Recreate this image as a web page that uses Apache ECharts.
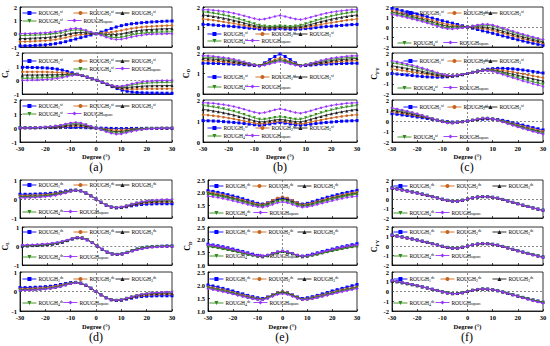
<!DOCTYPE html>
<html><head><meta charset="utf-8">
<script src="https://cdn.jsdelivr.net/npm/echarts@6/dist/echarts.min.js"></script>
<style>html,body{margin:0;padding:0;background:#fff}#c{width:550px;height:346px}</style>
</head><body><div id="c"></div>
<script>
const degrees = [-30,-28,-26,-24,-22,-20,-18,-16,-14,-12,-10,-8,-6,-4,-2,0,2,4,6,8,10,12,14,16,18,20,22,24,26,28,30];
const xTicks = [-30,-20,-10,0,10,20,30];
const yTicksA = [-1,0,1,2];
const yTicksB = [0,1,2];
const yTicksC = [-2,-1,0,1,2];
const yTicksD = [-1,0,1];
const yTicksE = [1.0,1.5,2.0,2.5];
const yTicksF = [-2,-1,0,1,2];

// ---- panel (a) C_L ----
const a1Blue = [-0.92,-0.91,-0.9,-0.88,-0.86,-0.84,-0.8,-0.75,-0.68,-0.6,-0.5,-0.4,-0.3,-0.2,-0.1,0,0.12,0.25,0.38,0.5,0.6,0.68,0.74,0.78,0.82,0.85,0.88,0.9,0.92,0.94,0.95];
const a1Orange = [-0.6,-0.59,-0.58,-0.56,-0.54,-0.52,-0.49,-0.44,-0.37,-0.29,-0.2,-0.12,-0.07,-0.04,-0.02,0,0.04,0.07,0.11,0.17,0.24,0.32,0.39,0.45,0.49,0.53,0.55,0.57,0.59,0.61,0.62];
const a1Black = [-0.37,-0.36,-0.35,-0.33,-0.31,-0.29,-0.26,-0.22,-0.15,-0.07,0.02,0.08,0.1,0.07,0.03,0,-0.02,-0.06,-0.08,-0.06,-0.01,0.07,0.15,0.21,0.26,0.3,0.32,0.34,0.36,0.37,0.38];
const a1Green = [-0.14,-0.13,-0.12,-0.11,-0.09,-0.07,-0.04,0.01,0.07,0.15,0.23,0.28,0.26,0.18,0.09,0,-0.08,-0.18,-0.27,-0.3,-0.27,-0.19,-0.1,-0.03,0.03,0.07,0.09,0.11,0.12,0.13,0.14];
const aSquare = [0,0.01,0.02,0.03,0.05,0.07,0.1,0.14,0.2,0.28,0.36,0.4,0.36,0.25,0.12,0,-0.12,-0.26,-0.38,-0.44,-0.42,-0.34,-0.25,-0.17,-0.11,-0.07,-0.05,-0.03,-0.02,-0.01,0];
const a2Blue = [0.95,0.95,0.94,0.93,0.92,0.9,0.87,0.82,0.75,0.65,0.55,0.45,0.35,0.23,0.12,0,-0.14,-0.3,-0.46,-0.6,-0.72,-0.8,-0.86,-0.89,-0.91,-0.92,-0.93,-0.93,-0.94,-0.94,-0.95];
const a2Orange = [0.62,0.62,0.62,0.62,0.62,0.61,0.6,0.58,0.56,0.52,0.48,0.43,0.35,0.24,0.12,0,-0.13,-0.29,-0.43,-0.54,-0.62,-0.64,-0.65,-0.64,-0.63,-0.62,-0.62,-0.62,-0.62,-0.61,-0.62];
const a2Black = [0.38,0.39,0.39,0.39,0.4,0.4,0.41,0.41,0.42,0.43,0.44,0.42,0.36,0.24,0.12,0,-0.13,-0.28,-0.41,-0.5,-0.54,-0.52,-0.49,-0.46,-0.43,-0.41,-0.4,-0.39,-0.39,-0.38,-0.38];
const a2Green = [0.14,0.15,0.16,0.17,0.18,0.19,0.22,0.24,0.28,0.34,0.39,0.41,0.36,0.25,0.12,0,-0.12,-0.27,-0.39,-0.46,-0.47,-0.41,-0.34,-0.28,-0.23,-0.2,-0.18,-0.17,-0.16,-0.15,-0.14];
const a3Blue = [0.02,0.02,0.02,0.02,0.02,0.02,0.03,0.03,0.03,0.04,0.04,0.04,0.03,0.02,0.01,0,-0.01,-0.02,-0.03,-0.04,-0.04,-0.04,-0.03,-0.03,-0.03,-0.02,-0.02,-0.02,-0.02,-0.02,-0.02];
const a3Orange = [0.01,0.01,0.02,0.02,0.03,0.04,0.05,0.06,0.08,0.11,0.14,0.15,0.14,0.1,0.05,0,-0.05,-0.1,-0.14,-0.16,-0.16,-0.13,-0.1,-0.07,-0.05,-0.03,-0.02,-0.02,-0.01,-0.01,-0.01];
const a3Black = [0,0.01,0.01,0.02,0.03,0.04,0.06,0.08,0.12,0.17,0.22,0.24,0.22,0.15,0.07,0,-0.07,-0.16,-0.23,-0.26,-0.25,-0.2,-0.15,-0.1,-0.07,-0.04,-0.03,-0.02,-0.01,-0.01,0];
const a3Green = [0,0.01,0.02,0.03,0.04,0.06,0.08,0.12,0.17,0.24,0.31,0.34,0.31,0.21,0.1,0,-0.1,-0.22,-0.32,-0.37,-0.36,-0.29,-0.21,-0.14,-0.09,-0.06,-0.04,-0.03,-0.02,-0.01,0];

// ---- panel (b) C_D ----
const b1Blue = [1.13,1.12,1.1,1.08,1.06,1.04,1.02,1.0,0.97,0.94,0.92,0.9,0.89,0.89,0.9,0.92,0.9,0.89,0.89,0.9,0.92,0.94,0.97,1.0,1.02,1.04,1.06,1.08,1.1,1.12,1.13];
const b1Orange = [1.4,1.37,1.34,1.3,1.26,1.22,1.18,1.13,1.08,1.03,0.99,0.96,0.95,0.95,0.96,0.98,0.96,0.95,0.95,0.96,0.99,1.03,1.08,1.13,1.18,1.22,1.26,1.3,1.34,1.37,1.4];
const b1Black = [1.6,1.57,1.53,1.49,1.44,1.39,1.33,1.27,1.2,1.13,1.07,1.02,1.0,0.99,1.0,1.02,1.0,0.99,1.0,1.02,1.07,1.13,1.2,1.27,1.33,1.39,1.44,1.49,1.53,1.57,1.6];
const b1Green = [1.76,1.73,1.69,1.65,1.6,1.54,1.47,1.4,1.32,1.24,1.16,1.09,1.05,1.03,1.04,1.06,1.04,1.03,1.05,1.09,1.16,1.24,1.32,1.4,1.47,1.54,1.6,1.65,1.69,1.73,1.76];
const bSquare = [1.87,1.86,1.84,1.81,1.78,1.74,1.69,1.63,1.56,1.49,1.42,1.37,1.4,1.46,1.53,1.58,1.53,1.46,1.4,1.37,1.42,1.49,1.56,1.63,1.69,1.74,1.78,1.81,1.84,1.86,1.87];
const b2Blue = [1.5,1.5,1.49,1.49,1.48,1.47,1.46,1.45,1.43,1.41,1.39,1.38,1.52,1.68,1.83,1.95,1.83,1.68,1.52,1.38,1.39,1.41,1.43,1.45,1.46,1.47,1.48,1.49,1.49,1.5,1.5];
const b2Orange = [1.63,1.62,1.61,1.59,1.57,1.55,1.52,1.5,1.47,1.44,1.41,1.39,1.48,1.58,1.68,1.76,1.68,1.58,1.48,1.39,1.41,1.44,1.47,1.5,1.52,1.55,1.57,1.59,1.61,1.62,1.63];
const b2Black = [1.73,1.72,1.7,1.68,1.66,1.63,1.59,1.55,1.51,1.46,1.42,1.39,1.45,1.54,1.62,1.68,1.62,1.54,1.45,1.39,1.42,1.46,1.51,1.55,1.59,1.63,1.66,1.68,1.7,1.72,1.73];
const b2Green = [1.8,1.79,1.77,1.75,1.72,1.69,1.65,1.6,1.55,1.49,1.43,1.38,1.43,1.5,1.57,1.62,1.57,1.5,1.43,1.38,1.43,1.49,1.55,1.6,1.65,1.69,1.72,1.75,1.77,1.79,1.8];
const b3Blue = [1.02,1.01,1.0,0.99,0.97,0.95,0.93,0.91,0.88,0.85,0.82,0.8,0.82,0.86,0.9,0.93,0.9,0.86,0.82,0.8,0.82,0.85,0.88,0.91,0.93,0.95,0.97,0.99,1.0,1.01,1.02];
const b3Orange = [1.3,1.28,1.25,1.22,1.18,1.14,1.1,1.05,1.0,0.95,0.9,0.87,0.89,0.93,0.97,1.0,0.97,0.93,0.89,0.87,0.9,0.95,1.0,1.05,1.1,1.14,1.18,1.22,1.25,1.28,1.3];
const b3Black = [1.55,1.52,1.48,1.44,1.39,1.34,1.28,1.22,1.15,1.08,1.01,0.96,0.97,1.01,1.05,1.08,1.05,1.01,0.97,0.96,1.01,1.08,1.15,1.22,1.28,1.34,1.39,1.44,1.48,1.52,1.55];
const b3Green = [1.74,1.71,1.67,1.63,1.58,1.52,1.46,1.39,1.31,1.23,1.15,1.08,1.08,1.12,1.17,1.2,1.17,1.12,1.08,1.08,1.15,1.23,1.31,1.39,1.46,1.52,1.58,1.63,1.67,1.71,1.74];

// ---- panel (c) C_FY ----
const c1Blue = [1.85,1.75,1.63,1.52,1.4,1.28,1.15,1.02,0.89,0.76,0.63,0.5,0.38,0.25,0.12,0,-0.12,-0.25,-0.38,-0.5,-0.63,-0.76,-0.89,-1.02,-1.15,-1.28,-1.4,-1.52,-1.63,-1.73,-1.82];
const c1Orange = [1.64,1.54,1.42,1.31,1.19,1.07,0.94,0.8,0.66,0.52,0.38,0.26,0.18,0.11,0.05,0,-0.04,-0.09,-0.15,-0.23,-0.34,-0.47,-0.61,-0.75,-0.89,-1.03,-1.16,-1.29,-1.41,-1.52,-1.62];
const c1Black = [1.49,1.39,1.28,1.17,1.05,0.92,0.78,0.64,0.5,0.35,0.2,0.09,0.03,0.01,0,0,0.01,0.02,0.01,-0.03,-0.13,-0.27,-0.42,-0.56,-0.71,-0.85,-0.99,-1.12,-1.25,-1.37,-1.48];
const c1Green = [1.34,1.24,1.13,1.02,0.9,0.77,0.63,0.48,0.34,0.18,0.03,-0.08,-0.11,-0.09,-0.05,0,0.07,0.13,0.17,0.16,0.08,-0.06,-0.22,-0.37,-0.53,-0.68,-0.82,-0.96,-1.09,-1.22,-1.34];
const cSquare = [1.25,1.15,1.04,0.93,0.81,0.68,0.54,0.39,0.24,0.08,-0.08,-0.18,-0.2,-0.15,-0.08,0,0.1,0.2,0.27,0.28,0.2,0.06,-0.1,-0.26,-0.42,-0.57,-0.72,-0.86,-1.0,-1.13,-1.26];
const c2Blue = [0,-0.05,-0.1,-0.15,-0.2,-0.25,-0.3,-0.33,-0.35,-0.36,-0.35,-0.32,-0.28,-0.22,-0.12,0,0.12,0.24,0.34,0.42,0.47,0.5,0.5,0.48,0.45,0.4,0.34,0.27,0.2,0.12,0.05];
const c2Orange = [0.44,0.37,0.3,0.23,0.15,0.08,-0.01,-0.08,-0.14,-0.21,-0.26,-0.27,-0.25,-0.2,-0.11,0,0.11,0.23,0.32,0.37,0.38,0.35,0.29,0.22,0.15,0.06,-0.03,-0.13,-0.22,-0.32,-0.41];
const c2Black = [0.75,0.67,0.58,0.5,0.41,0.31,0.2,0.1,0,-0.1,-0.19,-0.24,-0.23,-0.18,-0.1,0,0.11,0.22,0.3,0.34,0.31,0.24,0.14,0.04,-0.07,-0.18,-0.3,-0.41,-0.52,-0.63,-0.74];
const c2Green = [1.06,0.97,0.87,0.77,0.66,0.54,0.41,0.28,0.15,0.01,-0.12,-0.2,-0.21,-0.16,-0.09,0,0.1,0.21,0.28,0.3,0.24,0.13,-0.01,-0.15,-0.29,-0.42,-0.56,-0.69,-0.82,-0.94,-1.06];
const c3Blue = [0.7,0.64,0.58,0.52,0.45,0.38,0.31,0.24,0.16,0.08,0,-0.06,-0.1,-0.09,-0.05,0,0.06,0.12,0.17,0.2,0.19,0.14,0.06,-0.04,-0.15,-0.27,-0.39,-0.51,-0.63,-0.74,-0.85];
const c3Orange = [0.89,0.82,0.74,0.66,0.58,0.49,0.39,0.29,0.19,0.08,-0.03,-0.1,-0.14,-0.11,-0.06,0,0.07,0.15,0.21,0.23,0.19,0.11,0,-0.12,-0.24,-0.38,-0.51,-0.63,-0.76,-0.88,-0.99];
const c3Black = [1.03,0.95,0.86,0.77,0.67,0.56,0.45,0.33,0.21,0.08,-0.05,-0.13,-0.16,-0.13,-0.07,0,0.08,0.17,0.23,0.25,0.2,0.09,-0.04,-0.17,-0.31,-0.45,-0.59,-0.72,-0.85,-0.97,-1.1];
const c3Green = [1.17,1.07,0.97,0.87,0.76,0.64,0.51,0.37,0.23,0.08,-0.07,-0.16,-0.19,-0.14,-0.08,0,0.09,0.19,0.26,0.27,0.2,0.07,-0.08,-0.23,-0.38,-0.53,-0.67,-0.81,-0.94,-1.07,-1.2];

// ---- panel (d) C_L ----
const d1Blue = [0.25,0.25,0.25,0.26,0.27,0.28,0.3,0.33,0.37,0.42,0.46,0.47,0.43,0.32,0.17,0,-0.17,-0.32,-0.42,-0.46,-0.45,-0.41,-0.36,-0.32,-0.29,-0.27,-0.26,-0.25,-0.25,-0.25,-0.25];
const d1Orange = [0.18,0.18,0.19,0.2,0.21,0.23,0.25,0.29,0.34,0.39,0.44,0.47,0.43,0.32,0.17,0,-0.17,-0.32,-0.42,-0.46,-0.44,-0.39,-0.33,-0.27,-0.23,-0.2,-0.18,-0.17,-0.17,-0.16,-0.16];
const d1Black = [0.13,0.13,0.14,0.15,0.16,0.18,0.21,0.25,0.3,0.36,0.42,0.46,0.43,0.32,0.17,0,-0.17,-0.32,-0.42,-0.46,-0.43,-0.37,-0.3,-0.24,-0.19,-0.15,-0.13,-0.12,-0.11,-0.11,-0.1];
const d1Green = [0.09,0.09,0.1,0.11,0.13,0.15,0.18,0.22,0.27,0.34,0.41,0.45,0.42,0.32,0.17,0,-0.17,-0.32,-0.42,-0.45,-0.43,-0.36,-0.28,-0.21,-0.16,-0.12,-0.1,-0.08,-0.07,-0.07,-0.06];
const dSquare = [0.05,0.06,0.07,0.08,0.1,0.12,0.15,0.19,0.25,0.32,0.4,0.45,0.42,0.32,0.17,0,-0.17,-0.32,-0.42,-0.45,-0.42,-0.35,-0.27,-0.2,-0.14,-0.1,-0.07,-0.05,-0.04,-0.03,-0.03];
const d2Blue = [0,0.01,0.02,0.03,0.05,0.07,0.1,0.14,0.2,0.28,0.37,0.44,0.42,0.33,0.18,0,-0.17,-0.32,-0.41,-0.44,-0.41,-0.33,-0.24,-0.16,-0.1,-0.06,-0.03,-0.02,-0.01,0,0];
const d2Orange = [0.01,0.02,0.03,0.04,0.06,0.08,0.11,0.15,0.21,0.29,0.38,0.45,0.43,0.33,0.18,0,-0.17,-0.33,-0.42,-0.45,-0.42,-0.34,-0.25,-0.17,-0.11,-0.07,-0.04,-0.03,-0.02,-0.01,-0.01];
const d2Black = [0,0.01,0.02,0.03,0.05,0.07,0.1,0.15,0.21,0.29,0.38,0.44,0.42,0.33,0.18,0,-0.17,-0.32,-0.42,-0.45,-0.42,-0.34,-0.25,-0.16,-0.1,-0.06,-0.04,-0.02,-0.01,-0.01,0];
const d2Green = [0.01,0.01,0.02,0.04,0.05,0.08,0.11,0.15,0.21,0.29,0.38,0.45,0.43,0.33,0.18,0,-0.18,-0.33,-0.42,-0.45,-0.42,-0.34,-0.25,-0.17,-0.11,-0.07,-0.04,-0.03,-0.02,-0.01,-0.01];
const d3Blue = [0.2,0.2,0.21,0.22,0.23,0.25,0.27,0.31,0.36,0.41,0.46,0.47,0.43,0.32,0.17,0,-0.17,-0.32,-0.42,-0.46,-0.44,-0.39,-0.34,-0.29,-0.26,-0.24,-0.23,-0.22,-0.22,-0.22,-0.22];
const d3Orange = [0.14,0.14,0.15,0.16,0.18,0.2,0.23,0.27,0.32,0.38,0.44,0.47,0.43,0.32,0.17,0,-0.17,-0.32,-0.42,-0.46,-0.43,-0.38,-0.31,-0.25,-0.21,-0.18,-0.16,-0.15,-0.14,-0.14,-0.14];
const d3Black = [0.09,0.1,0.1,0.11,0.13,0.15,0.18,0.22,0.28,0.35,0.42,0.46,0.43,0.32,0.17,0,-0.17,-0.32,-0.42,-0.45,-0.43,-0.36,-0.29,-0.22,-0.17,-0.13,-0.11,-0.1,-0.09,-0.09,-0.09];
const d3Green = [0.06,0.06,0.07,0.08,0.1,0.13,0.16,0.2,0.26,0.33,0.41,0.45,0.42,0.32,0.17,0,-0.17,-0.32,-0.42,-0.45,-0.42,-0.35,-0.27,-0.2,-0.15,-0.11,-0.08,-0.06,-0.05,-0.05,-0.04];

// ---- panel (e) C_D ----
const e1Blue = [2.08,2.05,2.01,1.97,1.92,1.87,1.82,1.76,1.7,1.64,1.58,1.55,1.6,1.68,1.75,1.79,1.75,1.68,1.6,1.55,1.58,1.64,1.7,1.76,1.82,1.87,1.92,1.97,2.01,2.05,2.09];
const e1Orange = [2.02,1.99,1.95,1.91,1.86,1.81,1.76,1.71,1.65,1.6,1.55,1.53,1.6,1.7,1.79,1.84,1.79,1.7,1.6,1.53,1.55,1.6,1.65,1.71,1.76,1.81,1.86,1.91,1.95,1.99,2.02];
const e1Black = [1.98,1.95,1.91,1.87,1.83,1.78,1.73,1.67,1.62,1.56,1.51,1.49,1.55,1.63,1.71,1.75,1.71,1.63,1.55,1.49,1.51,1.56,1.62,1.67,1.73,1.78,1.83,1.87,1.91,1.95,1.98];
const e1Green = [1.94,1.91,1.87,1.83,1.79,1.74,1.69,1.63,1.58,1.52,1.48,1.46,1.51,1.58,1.65,1.69,1.65,1.58,1.51,1.46,1.48,1.52,1.58,1.63,1.69,1.74,1.79,1.83,1.87,1.91,1.94];
const e1Square = [1.86,1.84,1.81,1.77,1.73,1.68,1.63,1.58,1.53,1.48,1.44,1.42,1.46,1.53,1.6,1.63,1.6,1.53,1.46,1.42,1.44,1.48,1.53,1.58,1.63,1.68,1.73,1.77,1.81,1.84,1.86];
const e2Blue = [1.82,1.79,1.76,1.72,1.68,1.63,1.58,1.53,1.48,1.43,1.38,1.35,1.38,1.45,1.51,1.54,1.51,1.45,1.38,1.35,1.38,1.43,1.48,1.53,1.58,1.63,1.68,1.72,1.76,1.8,1.84];
const e2Orange = [1.78,1.75,1.72,1.68,1.64,1.59,1.54,1.5,1.45,1.4,1.36,1.34,1.38,1.45,1.51,1.54,1.51,1.45,1.38,1.34,1.36,1.4,1.45,1.5,1.54,1.59,1.64,1.68,1.72,1.75,1.78];
const e2Black = [1.76,1.73,1.7,1.66,1.62,1.57,1.53,1.48,1.43,1.39,1.35,1.33,1.37,1.44,1.5,1.53,1.5,1.44,1.37,1.33,1.35,1.39,1.43,1.48,1.53,1.57,1.62,1.66,1.7,1.73,1.76];
const e2Green = [1.73,1.7,1.67,1.63,1.59,1.55,1.5,1.46,1.41,1.37,1.34,1.32,1.36,1.43,1.49,1.52,1.49,1.43,1.36,1.32,1.34,1.37,1.41,1.46,1.5,1.55,1.59,1.63,1.67,1.7,1.73];
const e2Square = [1.8,1.77,1.74,1.7,1.66,1.61,1.56,1.51,1.46,1.41,1.37,1.35,1.39,1.46,1.52,1.55,1.52,1.46,1.39,1.35,1.37,1.41,1.46,1.51,1.56,1.61,1.66,1.7,1.74,1.77,1.8];
const e3Blue = [2.0,1.96,1.92,1.87,1.82,1.77,1.71,1.66,1.6,1.55,1.51,1.48,1.54,1.62,1.7,1.73,1.7,1.62,1.54,1.48,1.51,1.55,1.6,1.66,1.71,1.77,1.82,1.87,1.92,1.97,2.02];
const e3Orange = [1.94,1.9,1.86,1.82,1.77,1.72,1.67,1.62,1.57,1.52,1.48,1.46,1.53,1.62,1.71,1.75,1.71,1.62,1.53,1.46,1.48,1.52,1.57,1.62,1.67,1.72,1.77,1.82,1.86,1.9,1.94];
const e3Black = [1.91,1.87,1.83,1.79,1.74,1.69,1.64,1.59,1.54,1.5,1.46,1.45,1.51,1.6,1.68,1.72,1.68,1.6,1.51,1.45,1.46,1.5,1.54,1.59,1.64,1.69,1.74,1.79,1.83,1.87,1.91];
const e3Green = [1.88,1.84,1.8,1.76,1.72,1.67,1.62,1.57,1.52,1.48,1.45,1.44,1.5,1.58,1.66,1.7,1.66,1.58,1.5,1.44,1.45,1.48,1.52,1.57,1.62,1.67,1.72,1.76,1.8,1.84,1.88];
const e3Square = [1.86,1.82,1.78,1.74,1.7,1.65,1.6,1.56,1.51,1.47,1.44,1.43,1.48,1.56,1.63,1.66,1.63,1.56,1.48,1.43,1.44,1.47,1.51,1.56,1.6,1.65,1.7,1.74,1.78,1.82,1.86];

// ---- panel (f) C_FY ----
const f1Blue = [1.18,1.08,0.98,0.87,0.76,0.65,0.53,0.4,0.27,0.13,-0.01,-0.13,-0.21,-0.21,-0.13,0,0.12,0.21,0.26,0.25,0.19,0.09,-0.04,-0.19,-0.34,-0.49,-0.64,-0.78,-0.92,-1.05,-1.17];
const f1Orange = [1.16,1.06,0.96,0.86,0.75,0.64,0.52,0.39,0.26,0.12,-0.02,-0.14,-0.22,-0.22,-0.14,0,0.12,0.21,0.25,0.24,0.18,0.08,-0.05,-0.2,-0.35,-0.5,-0.65,-0.79,-0.93,-1.06,-1.18];
const f1Black = [1.15,1.05,0.95,0.85,0.74,0.63,0.51,0.38,0.25,0.11,-0.03,-0.15,-0.22,-0.22,-0.14,0,0.12,0.21,0.25,0.24,0.18,0.08,-0.05,-0.2,-0.35,-0.5,-0.65,-0.8,-0.94,-1.07,-1.19];
const f1Green = [1.14,1.04,0.94,0.84,0.73,0.62,0.5,0.37,0.24,0.1,-0.04,-0.16,-0.23,-0.22,-0.14,0,0.12,0.21,0.25,0.23,0.17,0.07,-0.06,-0.21,-0.36,-0.51,-0.66,-0.8,-0.94,-1.07,-1.2];
const fSquare = [1.13,1.03,0.93,0.83,0.72,0.61,0.49,0.36,0.23,0.09,-0.05,-0.17,-0.24,-0.23,-0.15,0,0.12,0.22,0.26,0.24,0.17,0.07,-0.06,-0.21,-0.36,-0.51,-0.66,-0.81,-0.95,-1.08,-1.21];
const f2Blue = [1.16,1.06,0.96,0.86,0.75,0.64,0.52,0.39,0.26,0.12,-0.02,-0.14,-0.21,-0.21,-0.13,0,0.12,0.21,0.26,0.25,0.19,0.09,-0.04,-0.19,-0.34,-0.49,-0.63,-0.77,-0.9,-1.03,-1.15];
const f2Orange = [1.15,1.05,0.95,0.85,0.74,0.63,0.51,0.38,0.25,0.11,-0.03,-0.15,-0.22,-0.22,-0.14,0,0.12,0.21,0.25,0.24,0.18,0.08,-0.05,-0.2,-0.35,-0.5,-0.64,-0.78,-0.91,-1.04,-1.16];
const f2Black = [1.14,1.04,0.94,0.84,0.73,0.62,0.5,0.37,0.24,0.1,-0.04,-0.16,-0.22,-0.22,-0.14,0,0.12,0.21,0.25,0.24,0.18,0.08,-0.05,-0.2,-0.35,-0.5,-0.64,-0.78,-0.92,-1.05,-1.17];
const f2Green = [1.14,1.04,0.94,0.83,0.72,0.61,0.49,0.36,0.23,0.09,-0.05,-0.16,-0.23,-0.22,-0.14,0,0.12,0.21,0.25,0.23,0.17,0.07,-0.06,-0.21,-0.36,-0.51,-0.65,-0.79,-0.93,-1.06,-1.18];
const f3Blue = [1.1,1.01,0.91,0.81,0.71,0.6,0.49,0.37,0.24,0.11,-0.02,-0.13,-0.2,-0.2,-0.12,0,0.12,0.21,0.26,0.25,0.19,0.09,-0.04,-0.18,-0.32,-0.46,-0.6,-0.73,-0.86,-0.98,-1.1];
const f3Orange = [1.09,1.0,0.9,0.8,0.7,0.59,0.48,0.36,0.23,0.1,-0.03,-0.14,-0.21,-0.21,-0.13,0,0.12,0.21,0.25,0.24,0.18,0.08,-0.05,-0.19,-0.33,-0.47,-0.61,-0.74,-0.87,-0.99,-1.11];
const f3Black = [1.08,0.99,0.89,0.79,0.69,0.58,0.47,0.35,0.22,0.09,-0.04,-0.15,-0.22,-0.21,-0.13,0,0.12,0.21,0.25,0.23,0.17,0.07,-0.06,-0.2,-0.34,-0.48,-0.62,-0.75,-0.88,-1.0,-1.12];
const f3Green = [1.08,0.98,0.88,0.78,0.68,0.57,0.46,0.34,0.21,0.08,-0.05,-0.16,-0.22,-0.22,-0.14,0,0.12,0.21,0.25,0.23,0.17,0.07,-0.06,-0.2,-0.34,-0.48,-0.62,-0.76,-0.89,-1.01,-1.13];

const legendSub = ['1','2','3','4'];
const xAxisTitle = 'Degree (°)';

// ---------- layout / styling ----------
const FONT = 'Liberation Serif';
const COLORS = ['#0000ff','#c8641e','#1a1a1a','#2f8a1a','#9933ff'];
const SYMBOLS = ['rect','circle','triangle','triangle','diamond'];
const ROT = [0,0,0,180,0];
const topRows = [{top:7,h:40},{top:53,h:41},{top:100,h:42}];
const botRows = [{top:180,h:38},{top:227,h:38},{top:272,h:39}];

const panels = [
  {label:'(a)', left:20, width:152, rows:topRows, ticks:yTicksA, dec:0, ysub:'L', nameGap:11, sup:'sf', marks:'xy', labelX:96, labelY:167,
   data:[[a1Blue,a1Orange,a1Black,a1Green,aSquare],[a2Blue,a2Orange,a2Black,a2Green,aSquare],[a3Blue,a3Orange,a3Black,a3Green,aSquare]],
   itemX:[[2,53,95,2,47],[2,53,95,53,95],[2,53,95,2,47]], rowY:[[6,14],[8,16],[6,14]]},
  {label:'(b)', left:203, width:154, rows:topRows, ticks:yTicksB, dec:0, ysub:'D', nameGap:12, sup:'sf', marks:'x', labelX:280, labelY:167,
   data:[[b1Blue,b1Orange,b1Black,b1Green,bSquare],[b2Blue,b2Orange,b2Black,b2Green,bSquare],[b3Blue,b3Orange,b3Black,b3Green,bSquare]],
   itemX:[[4,52,90,4,42],[4,52,90,4,42],[4,52,90,4,42]], rowY:[[-13,-6],[-17,-7],[-14,-6]]},
  {label:'(c)', left:392, width:151, rows:topRows, ticks:yTicksC, dec:0, ysub:'FY', nameGap:12, sup:'sf', marks:'xy', labelX:467, labelY:167,
   data:[[c1Blue,c1Orange,c1Black,c1Green,cSquare],[c2Blue,c2Orange,c2Black,c2Green,cSquare],[c3Blue,c3Orange,c3Black,c3Green,cSquare]],
   itemX:[[11,55,91,5,51],[11,55,91,5,51],[11,55,91,5,51]], rowY:[[6,-4],[8,-6],[7,-5]]},
  {label:'(d)', left:20, width:152, rows:botRows, ticks:yTicksD, dec:0, ysub:'L', nameGap:11, sup:'ds', marks:'xy', labelX:96, labelY:337,
   data:[[d1Blue,d1Orange,d1Black,d1Green,dSquare],[d2Blue,d2Orange,d2Black,d2Green,dSquare],[d3Blue,d3Orange,d3Black,d3Green,dSquare]],
   itemX:[[2,53,95,2,43],[2,53,95,2,43],[2,53,95,2,43]], rowY:[[5,-6],[5,-8],[7,-8]]},
  {label:'(e)', left:208, width:149, rows:botRows, ticks:yTicksE, dec:1, ysub:'D', nameGap:14, sup:'ds', marks:'x', labelX:282, labelY:337,
   data:[[e1Blue,e1Orange,e1Black,e1Green,e1Square],[e2Blue,e2Orange,e2Black,e2Green,e2Square],[e3Blue,e3Orange,e3Black,e3Green,e3Square]],
   itemX:[[1,44,89,1,45],[1,44,89,1,45],[1,44,89,1,45]], rowY:[[6,-5],[5,-9],[7,-8]]},
  {label:'(f)', left:392, width:151, rows:botRows, ticks:yTicksF, dec:0, ysub:'FY', nameGap:12, sup:'ds', marks:'xy', labelX:467, labelY:337,
   data:[[f1Blue,f1Orange,f1Black,f1Green,fSquare],[f2Blue,f2Orange,f2Black,f2Green,fSquare],[f3Blue,f3Orange,f3Black,f3Green,fSquare]],
   itemX:[[1,48,100,1,43],[1,48,100,1,43],[1,48,100,1,43]], rowY:[[6,-5],[5,-9],[7,-8]]}
];

const grid=[], xAxis=[], yAxis=[], series=[], legend=[], graphic=[];
const labelMap = {};
const rich = {
  r:{fontFamily:FONT,fontSize:5.5,color:'#000',lineHeight:7},
  sb:{fontFamily:FONT,fontSize:3.8,color:'#000',lineHeight:7,verticalAlign:'bottom'},
  sp:{fontFamily:FONT,fontSize:3.8,color:'#000',lineHeight:7,verticalAlign:'top'}
};
panels.forEach((p,pi)=>{
  const tk = p.ticks;
  for(let s=0;s<3;s++){
    const g = pi*3+s;
    const row = p.rows[s];
    grid.push({left:p.left, width:p.width, top:row.top, height:row.h, show:true, borderColor:'#000', borderWidth:0.8, backgroundColor:'transparent'});
    const bottom = s===2;
    xAxis.push({type:'value', gridIndex:g, min:xTicks[0], max:xTicks[xTicks.length-1], interval:xTicks[1]-xTicks[0],
      axisLine:{show:true,onZero:false,lineStyle:{color:'#000',width:0.8}},
      axisTick:{show:true,inside:true,length:2,lineStyle:{color:'#000',width:0.7}},
      axisLabel:{show:bottom, margin:3, fontFamily:FONT, fontSize:6.5, fontWeight:'bold', color:'#000'},
      splitLine:{show:false},
      name: bottom ? xAxisTitle : '', nameLocation:'middle', nameGap: p.rows===topRows ? 11 : 12,
      nameTextStyle:{fontFamily:FONT, fontSize:6.5, fontWeight:'bold', color:'#000'}});
    yAxis.push({type:'value', gridIndex:g, min:tk[0], max:tk[tk.length-1], interval:tk[1]-tk[0],
      axisLine:{show:true,onZero:false,lineStyle:{color:'#000',width:0.8}},
      axisTick:{show:true,inside:true,length:2,lineStyle:{color:'#000',width:0.7}},
      axisLabel:{margin:3, fontFamily:FONT, fontSize:6.5, fontWeight:'bold', color:'#000', formatter:v=>v.toFixed(p.dec)},
      splitLine:{show:false},
      name: s===1 ? '{c|C}{s|'+p.ysub+'}' : '', nameLocation:'middle', nameRotate:90, nameGap:p.nameGap,
      nameTextStyle:{rich:{c:{fontFamily:FONT,fontSize:8,fontWeight:'bold',color:'#000'},s:{fontFamily:FONT,fontSize:5,fontWeight:'bold',color:'#000',verticalAlign:'bottom',lineHeight:10}}}});
    const arrs = p.data[s];
    arrs.forEach((arr,k)=>{
      const name = 'p'+pi+'s'+s+'k'+k;
      labelMap[name] = k<4 ? '{r|ROUGH}{sb|'+legendSub[k]+'}{sp|'+p.sup+'}' : '{r|ROUGH}{sb|square}';
      const ser = {type:'line', name, xAxisIndex:g, yAxisIndex:g,
        data: degrees.map((d,i)=>[d,arr[i]]),
        symbol:SYMBOLS[k], symbolSize:k===1?2.6:3, symbolRotate:ROT[k], showSymbol:true,
        lineStyle:{width:0.8,color:COLORS[k]}, itemStyle:{color:COLORS[k]},
        emphasis:{disabled:true}, animation:false, silent:true, z:2+k};
      if(k===0){
        const md=[];
        if(p.marks.includes('x')) md.push({xAxis:0});
        if(p.marks.includes('y')) md.push({yAxis:0});
        ser.markLine={symbol:'none',silent:true,animation:false,label:{show:false},
          lineStyle:{type:[2,2],color:'#555',width:0.7},data:md};
      }
      series.push(ser);
      const ry = k<3 ? p.rowY[s][0] : p.rowY[s][1];
      const cy = ry>0 ? row.top+ry : row.top+row.h+ry;
      legend.push({data:[name], left:p.left+p.itemX[s][k], top:cy-3.5, padding:0, itemWidth:14, itemHeight:5,
        itemGap:0, selectedMode:false, formatter:n=>labelMap[n],
        lineStyle:{width:0.9, inactiveWidth:0.9},
        textStyle:{rich, padding:[0,0,0,-3]}});
    });
  }
  graphic.push({type:'text', x:p.labelX, y:p.labelY, style:{text:p.label, fontFamily:FONT, fontSize:12, fill:'#000', textAlign:'center', textVerticalAlign:'middle', align:'center', verticalAlign:'middle'}});
});

const chart = echarts.init(document.getElementById('c'), null, {renderer:'svg'});
chart.setOption({animation:false, backgroundColor:'#fff', grid, xAxis, yAxis, series, legend, graphic});
</script></body></html>
